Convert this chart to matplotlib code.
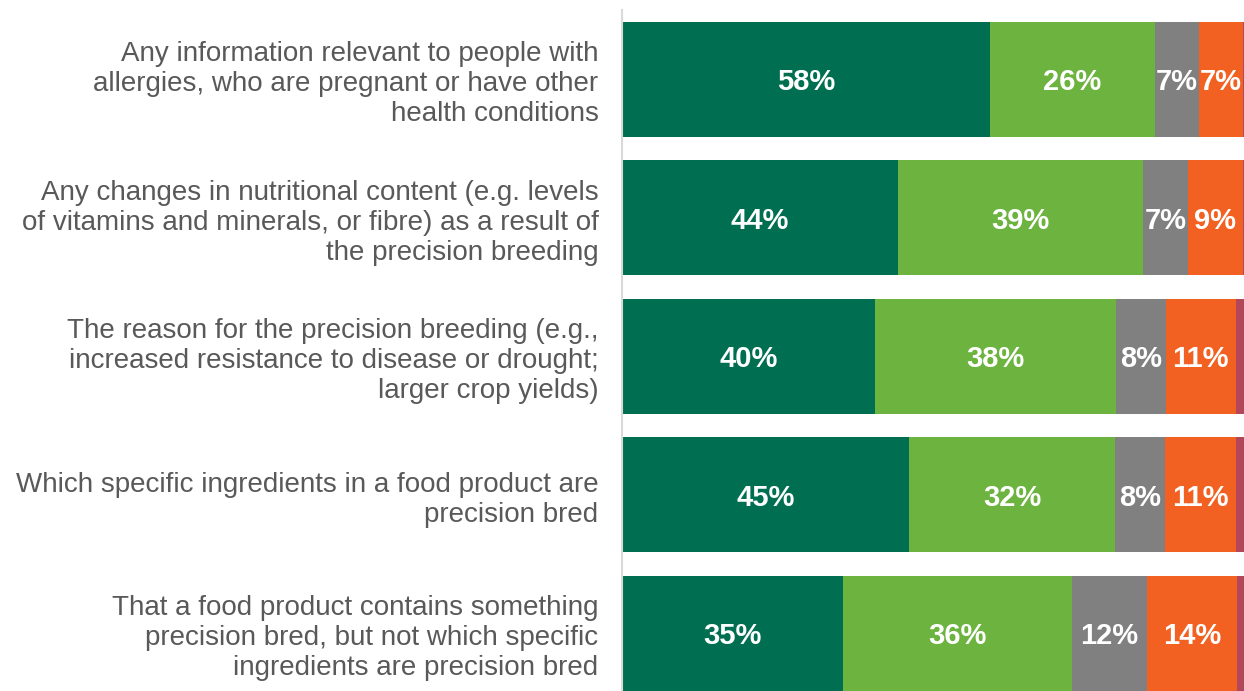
import numpy as np
import matplotlib.pyplot as plt

plt.rcParams['font.family'] = ['Liberation Sans', 'DejaVu Sans']

categorias = [
    "Any information relevant to people with\nallergies, who are pregnant or have other\nhealth conditions",
    "Any changes in nutritional content (e.g. levels\nof vitamins and minerals, or fibre) as a result of\nthe precision breeding",
    "The reason for the precision breeding (e.g.,\nincreased resistance to disease or drought;\nlarger crop yields)",
    "Which specific ingredients in a food product are\nprecision bred",
    "That a food product contains something\nprecision bred, but not which specific\ningredients are precision bred",
]

# valores (em %)
muito_importante = [58, 43.5, 39.9, 45.3, 34.9]
importante = [26, 38.7, 38.0, 32.5, 36.1]
pouco_importante = [7, 7.0, 7.9, 7.9, 11.8]
nada_importante = [7, 8.8, 11.0, 11.2, 14.2]
nao_sei = [2, 2.0, 3.2, 3.1, 3.0]

rotulos = [
    ["58%", "26%", "7%", "7%", ""],
    ["44%", "39%", "7%", "9%", ""],
    ["40%", "38%", "8%", "11%", ""],
    ["45%", "32%", "8%", "11%", ""],
    ["35%", "36%", "12%", "14%", ""],
]

cores = ["#006f51", "#6db33f", "#808080", "#f26122", "#b2475c"]

series = [muito_importante, importante, pouco_importante, nada_importante, nao_sei]

fig = plt.figure(figsize=(12.44, 6.91), dpi=100)
ax = fig.add_axes([622 / 1244, 0, 622 / 1244, 681 / 691])

y = np.arange(len(categorias))
esquerda = np.zeros(len(categorias))
for k, (vals, cor) in enumerate(zip(series, cores)):
    vals = np.array(vals)
    ax.barh(y, vals, left=esquerda, height=0.83, color=cor, linewidth=0)
    for i in range(len(categorias)):
        txt = rotulos[i][k]
        if txt:
            ax.text(esquerda[i] + vals[i] / 2, y[i], txt, ha='center', va='center_baseline',
                    color='white', fontsize=21, fontweight='bold')
    esquerda += vals

ax.set_xlim(0, 622 / 634 * 100)
ax.set_ylim(4.417, -0.5)
ax.set_xticks([])
ax.set_yticks(y)
ax.set_yticklabels(categorias, fontsize=20, color='#595959', linespacing=1.2)
ax.tick_params(axis='y', length=0, pad=17)
for lado in ['top', 'right', 'bottom']:
    ax.spines[lado].set_visible(False)
ax.spines['left'].set_color('#d9d9d9')
ax.spines['left'].set_linewidth(1.5)

fig.savefig('out.png', dpi=100)
